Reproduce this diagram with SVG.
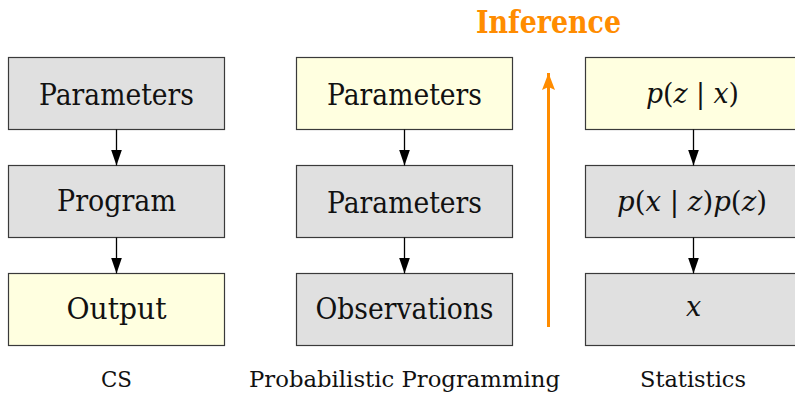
<svg xmlns="http://www.w3.org/2000/svg" width="795" height="394" viewBox="0 0 795 394">
<style>
.box{stroke:#3a3a3a;stroke-width:1.2}
.g{fill:#e0e0e0}
.y{fill:#ffffe0}
.t{font-family:"DejaVu Serif","Liberation Serif",serif;font-size:29px;fill:#111;text-anchor:middle}
.m{font-size:27px}
.lab{font-family:"DejaVu Serif","Liberation Serif",serif;font-size:23px;fill:#111;text-anchor:middle}
.inf{font-family:"DejaVu Serif","Liberation Serif",serif;font-weight:bold;font-size:31px;fill:#ff8c00;text-anchor:middle}
.i{font-style:italic}
.edge{stroke:#000;stroke-width:1.3;fill:none}
</style>
<defs>
<marker id="ah" viewBox="0 0 16 11" refX="16" refY="5.5" markerWidth="16" markerHeight="11" markerUnits="userSpaceOnUse" orient="auto">
<path d="M0,0 L16,5.5 L0,11 Z" fill="#000"/>
</marker>
<marker id="oh" viewBox="0 0 17 13" refX="17" refY="6.5" markerWidth="17" markerHeight="13" markerUnits="userSpaceOnUse" orient="auto">
<path d="M0,0 L17,6.5 L0,13 L3,6.5 Z" fill="#ff8c00"/>
</marker>
</defs>
<rect width="795" height="394" fill="#fff"/>
<g id="cs-params"><rect class="box g" x="8.5" y="57.5" width="216" height="72"/><text class="t" x="116.5" y="105" textLength="155" lengthAdjust="spacingAndGlyphs">Parameters</text></g>
<g id="cs-program"><rect class="box g" x="8.5" y="165.5" width="216" height="72"/><text class="t" x="116.5" y="211" textLength="119" lengthAdjust="spacingAndGlyphs">Program</text></g>
<g id="cs-output"><rect class="box y" x="8.5" y="273.5" width="216" height="72"/><text class="t" x="116.5" y="319" textLength="100" lengthAdjust="spacingAndGlyphs">Output</text></g>
<g id="pp-params"><rect class="box y" x="296.5" y="57.5" width="216" height="72"/><text class="t" x="404.5" y="105" textLength="155" lengthAdjust="spacingAndGlyphs">Parameters</text></g>
<g id="pp-params2"><rect class="box g" x="296.5" y="165.5" width="216" height="72"/><text class="t" x="404.5" y="213" textLength="155" lengthAdjust="spacingAndGlyphs">Parameters</text></g>
<g id="pp-obs"><rect class="box g" x="296.5" y="273.5" width="216" height="72"/><text class="t" x="404.5" y="319" textLength="178" lengthAdjust="spacingAndGlyphs">Observations</text></g>
<g id="st-post"><rect class="box y" x="585.5" y="57.5" width="216" height="72"/><text class="t m" x="692.5" y="103" textLength="93" lengthAdjust="spacingAndGlyphs"><tspan class="i">p</tspan>(<tspan class="i">z</tspan> | <tspan class="i">x</tspan>)</text></g>
<g id="st-joint"><rect class="box g" x="585.5" y="165.5" width="216" height="72"/><text class="t m" x="692" y="211" textLength="150" lengthAdjust="spacingAndGlyphs"><tspan class="i">p</tspan>(<tspan class="i">x</tspan> | <tspan class="i">z</tspan>)<tspan class="i">p</tspan>(<tspan class="i">z</tspan>)</text></g>
<g id="st-x"><rect class="box g" x="585.5" y="273.5" width="216" height="72"/><text class="t m i" x="693.5" y="316">x</text></g>
<g id="connectors">
<line class="edge" x1="116.5" y1="129.5" x2="116.5" y2="165.5" marker-end="url(#ah)"/>
<line class="edge" x1="116.5" y1="237.5" x2="116.5" y2="273.5" marker-end="url(#ah)"/>
<line class="edge" x1="404.5" y1="129.5" x2="404.5" y2="165.5" marker-end="url(#ah)"/>
<line class="edge" x1="404.5" y1="237.5" x2="404.5" y2="273.5" marker-end="url(#ah)"/>
<line class="edge" x1="693.5" y1="129.5" x2="693.5" y2="165.5" marker-end="url(#ah)"/>
<line class="edge" x1="693.5" y1="237.5" x2="693.5" y2="273.5" marker-end="url(#ah)"/>
<line x1="548.5" y1="327" x2="548.5" y2="73" stroke="#ff8c00" stroke-width="3" marker-end="url(#oh)"/>
</g>
<text class="inf" x="548.5" y="33" textLength="145" lengthAdjust="spacingAndGlyphs">Inference</text>
<text class="lab" x="116.5" y="387" textLength="31" lengthAdjust="spacingAndGlyphs">CS</text>
<text class="lab" x="404.5" y="387" textLength="311" lengthAdjust="spacingAndGlyphs">Probabilistic Programming</text>
<text class="lab" x="693" y="387" textLength="106" lengthAdjust="spacingAndGlyphs">Statistics</text>
</svg>
